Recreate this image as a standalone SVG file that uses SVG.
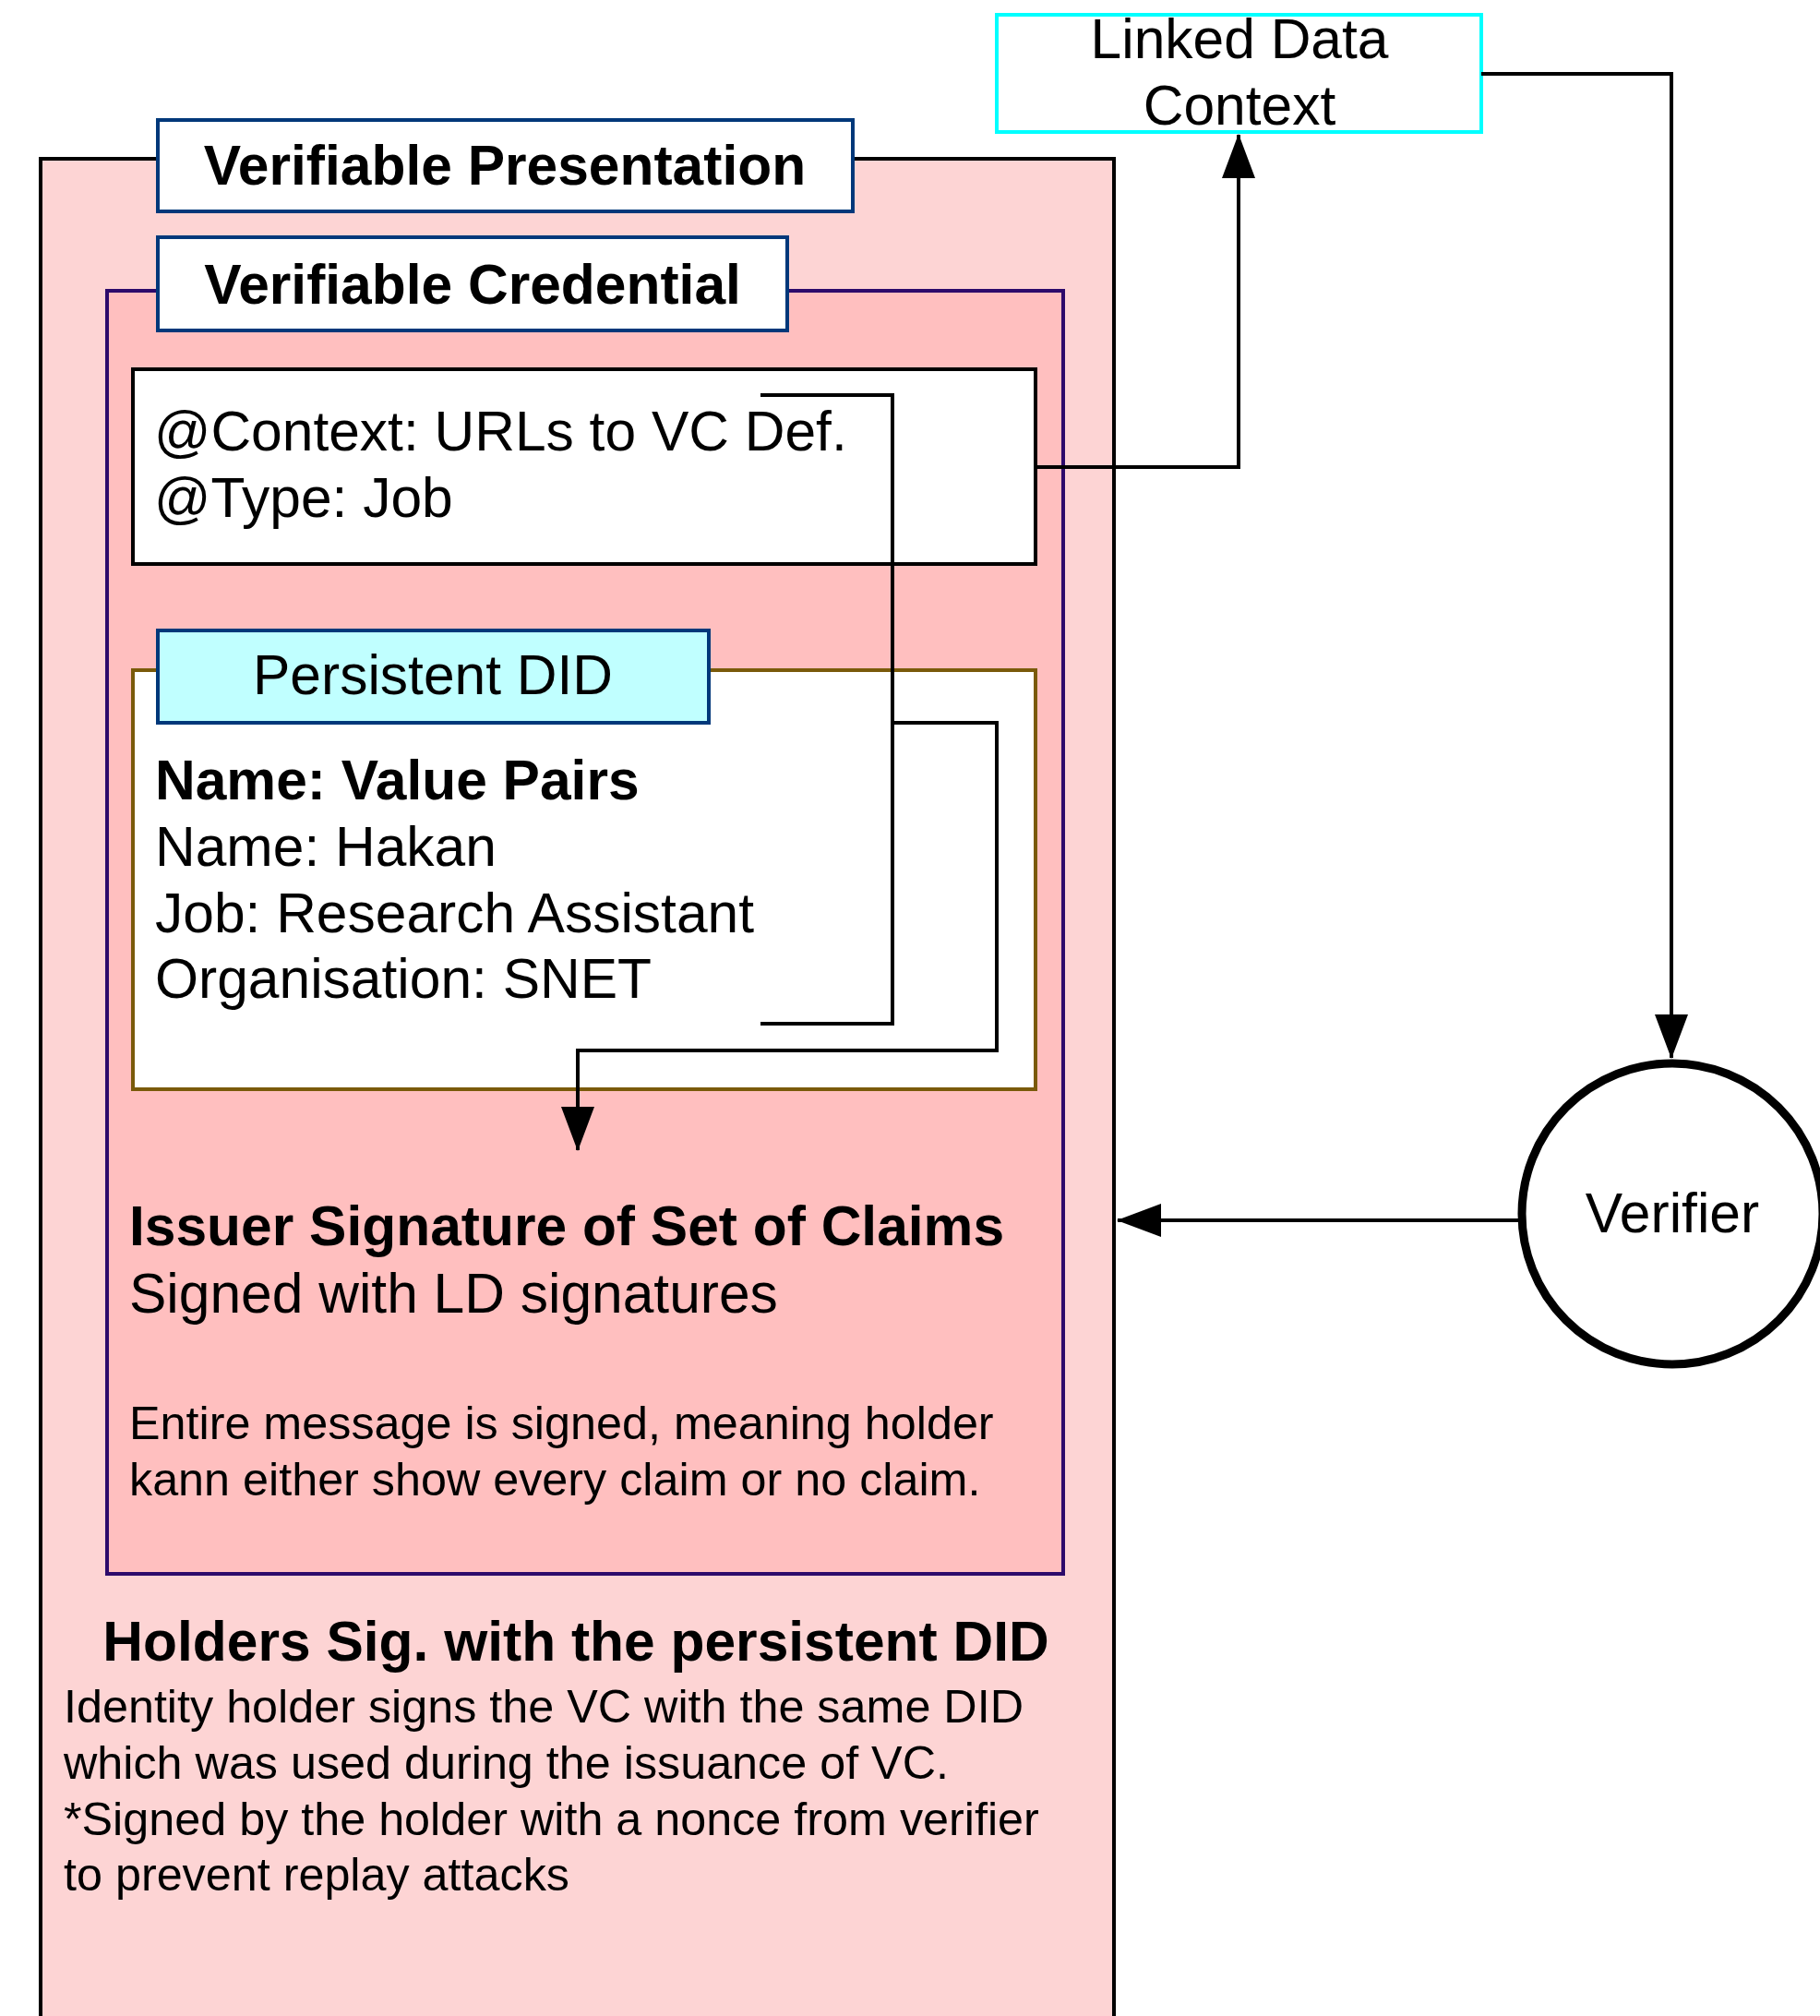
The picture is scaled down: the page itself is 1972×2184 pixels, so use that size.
<svg xmlns="http://www.w3.org/2000/svg" width="1972" height="2184" viewBox="0 0 1972 2184">
  <defs>
    <marker id="arrow" markerUnits="userSpaceOnUse" markerWidth="48" markerHeight="36" refX="47" refY="18" orient="auto">
      <path d="M0,0 L48,18 L0,36 z" fill="#000"/>
    </marker>
    <style>
      text { font-family: "Liberation Sans", Arial, Helvetica, sans-serif; fill: #000; }
      .big { font-size: 60.5px; }
      .small { font-size: 50.3px; }
      .bold { font-weight: bold; }
      .mid { text-anchor: middle; }
      .label { fill: #fff; stroke: #00387a; stroke-width: 4; }
      .conn { fill: none; stroke: #000; stroke-width: 4; }
    </style>
  </defs>

  <rect width="1972" height="2184" fill="#fff"/>

  <!-- Verifiable Presentation container -->
  <g id="vp">
    <rect x="44" y="172" width="1163" height="2100" fill="#fdd4d4" stroke="#000" stroke-width="4"/>
    <rect class="label" x="171" y="130" width="753" height="99"/>
    <text class="big bold mid" x="547" y="200">Verifiable Presentation</text>
    <text class="big bold mid" x="624" y="1799">Holders Sig. with the persistent DID</text>
    <text class="small" x="69" y="1866">Identity holder signs the VC with the same DID</text>
    <text class="small" x="69" y="1927">which was used during the issuance of VC.</text>
    <text class="small" x="69" y="1988">*Signed by the holder with a nonce from verifier</text>
    <text class="small" x="69" y="2048">to prevent replay attacks</text>
  </g>

  <!-- Verifiable Credential container -->
  <g id="vc">
    <rect x="116" y="315" width="1036" height="1390" fill="#ffbfbf" stroke="#2d0a6b" stroke-width="4"/>
    <rect class="label" x="171" y="257" width="682" height="101"/>
    <text class="big bold mid" x="512" y="329">Verifiable Credential</text>
  </g>

  <!-- Context / type block -->
  <g id="context">
    <rect x="144" y="400" width="978" height="211" fill="#fff" stroke="#000" stroke-width="4"/>
    <text class="big" x="167" y="488">@Context: URLs to VC Def.</text>
    <text class="big" x="167" y="560">@Type: Job</text>
  </g>

  <!-- Claims block -->
  <g id="claims">
    <rect x="144" y="726" width="978" height="454" fill="#fff" stroke="#7a5a0a" stroke-width="4"/>
    <text class="big bold" x="168" y="866">Name: Value Pairs</text>
    <text class="big" x="168" y="938">Name: Hakan</text>
    <text class="big" x="168" y="1010">Job: Research Assistant</text>
    <text class="big" x="168" y="1081">Organisation: SNET</text>
  </g>

  <g id="persistent-did">
    <rect x="171" y="683" width="597" height="100" fill="#c0ffff" stroke="#00387a" stroke-width="4"/>
    <text class="big mid" x="469" y="752">Persistent DID</text>
  </g>

  <!-- Issuer signature block -->
  <g id="issuer-signature">
    <text class="big bold" x="140" y="1349">Issuer Signature of Set of Claims</text>
    <text class="big" x="140" y="1422">Signed with LD signatures</text>
    <text class="small" x="140" y="1559">Entire message is signed, meaning holder</text>
    <text class="small" x="140" y="1620">kann either show every claim or no claim.</text>
  </g>

  <!-- Linked Data Context -->
  <g id="linked-data-context">
    <rect x="1080" y="16" width="525" height="127" fill="#fff" stroke="#00ffff" stroke-width="4"/>
    <text class="big mid" x="1343" y="63">Linked Data</text>
    <text class="big mid" x="1343" y="135">Context</text>
  </g>

  <!-- Verifier -->
  <g id="verifier">
    <circle cx="1812" cy="1315" r="163" fill="#fff" stroke="#000" stroke-width="9"/>
    <text class="big mid" x="1812" y="1335">Verifier</text>
  </g>

  <!-- Connectors -->
  <g id="connectors">
    <path class="conn" d="M1122,506 H1342 V146" marker-end="url(#arrow)"/>
    <path class="conn" d="M1605,80 H1811 V1146" marker-end="url(#arrow)"/>
    <path class="conn" d="M1645,1322 H1211" marker-end="url(#arrow)"/>
    <path class="conn" d="M824,428 H967 V1109 H824"/>
    <path class="conn" d="M967,783 H1080 V1138 H626 V1246" marker-end="url(#arrow)"/>
  </g>
</svg>
